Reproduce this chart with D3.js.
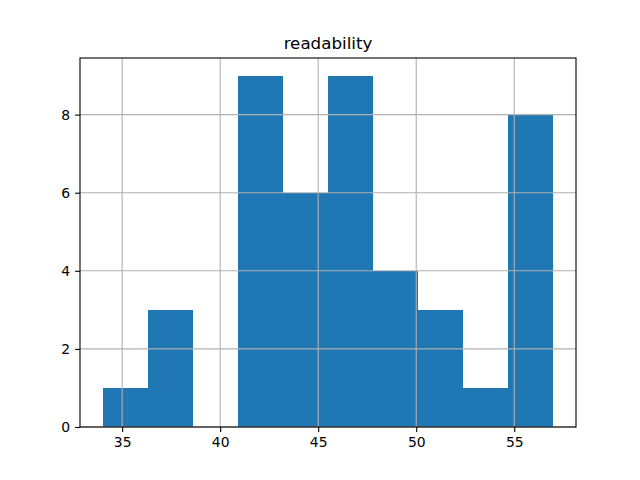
<!DOCTYPE html>
<html><head><meta charset="utf-8">
<script src="https://cdn.jsdelivr.net/npm/d3@7"></script>
<style>body{margin:0;background:#fff}svg{display:block}text{font-family:"DejaVu Sans",sans-serif;fill:#000}</style>
</head><body>
<script>
const title = "readability";
const counts = [1, 3, 0, 9, 6, 9, 4, 3, 1, 8];
const dataMin = 34.0;
const dataMax = 57.0;
const xTicks = [35, 40, 45, 50, 55];
const yTicks = [0, 2, 4, 6, 8];

const W = 640, H = 480;
const m = {left: 80, right: 64, top: 58, bottom: 53};
const iw = W - m.left - m.right, ih = H - m.top - m.bottom;
const binW = (dataMax - dataMin) / counts.length;
const bins = counts.map((c, i) => ({x0: dataMin + i * binW, x1: dataMin + (i + 1) * binW, c}));
const pad = (dataMax - dataMin) * 0.05;
const x = d3.scaleLinear().domain([dataMin - pad, dataMax + pad]).range([m.left, m.left + iw]);
const yMax = d3.max(counts) * 1.05;
const y = d3.scaleLinear().domain([0, yMax]).range([m.top + ih, m.top]);

const svg = d3.select("body").append("svg").attr("width", W).attr("height", H);

svg.append("g").attr("shape-rendering", "crispEdges").selectAll("rect").data(bins).join("rect")
  .attr("x", d => x(d.x0)).attr("width", d => x(d.x1) - x(d.x0))
  .attr("y", d => y(d.c)).attr("height", d => y(0) - y(d.c))
  .attr("fill", "#1f77b4");

const grid = svg.append("g").attr("stroke", "#b0b0b0").attr("stroke-width", 1.1);
grid.selectAll("line.gx").data(xTicks).join("line").attr("class", "gx")
  .attr("x1", d => x(d)).attr("x2", d => x(d)).attr("y1", m.top).attr("y2", m.top + ih);
grid.selectAll("line.gy").data(yTicks).join("line").attr("class", "gy")
  .attr("y1", d => y(d)).attr("y2", d => y(d)).attr("x1", m.left).attr("x2", m.left + iw);

const xAxis = svg.append("g").attr("transform", `translate(0,${m.top + ih})`)
  .call(d3.axisBottom(x).tickValues(xTicks).tickSize(4.9).tickPadding(4.9).tickFormat(d3.format("d")));
const yAxis = svg.append("g").attr("transform", `translate(${m.left},0)`)
  .call(d3.axisLeft(y).tickValues(yTicks).tickSize(4.9).tickPadding(4.9).tickFormat(d3.format("d")));
[xAxis, yAxis].forEach(a => {
  a.select(".domain").remove();
  a.selectAll("line").attr("stroke", "#000").attr("stroke-width", 1.1);
  a.selectAll("text").attr("font-size", "13.9px").attr("font-family", "DejaVu Sans").attr("fill", "#000");
});

svg.append("rect").attr("x", m.left).attr("y", m.top).attr("width", iw).attr("height", ih)
  .attr("fill", "none").attr("stroke", "#000").attr("stroke-width", 1.1);

svg.append("text").attr("x", m.left + iw / 2).attr("y", m.top - 9)
  .attr("text-anchor", "middle").attr("font-size", "16.7px").text(title);
</script>
</body></html>
